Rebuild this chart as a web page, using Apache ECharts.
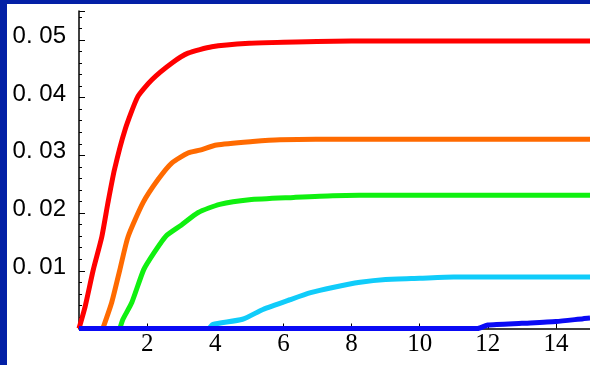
<!DOCTYPE html>
<html>
<head>
<meta charset="utf-8">
<script src="https://cdn.jsdelivr.net/npm/echarts@6/dist/echarts.min.js"></script>
<style>
html,body{margin:0;padding:0;background:#fff;}
#chart{width:590px;height:365px;}
</style>
</head>
<body>
<div id="chart"></div>
<script>
// ---- data ----
var xTickValues = [2, 4, 6, 8, 10, 12, 14];
var xTickLabels = ['2', '4', '6', '8', '10', '12', '14'];
var yTickValues = [0.01, 0.02, 0.03, 0.04, 0.05];
var yTickLabels = ['0. 01', '0. 02', '0. 03', '0. 04', '0. 05'];

var redX = [0, 0.18, 0.42, 0.67, 0.85, 1.04, 1.35, 1.73, 2.14, 2.73, 3.2, 3.9, 5.0, 6.0, 8.0, 15];
var redY = [0, 0.0038, 0.0102, 0.0159, 0.0218, 0.0275, 0.0344, 0.0402, 0.0431, 0.0460, 0.0477, 0.0488, 0.0494, 0.0496, 0.0498, 0.0498];

var orangeX = [0.7, 0.96, 1.2, 1.44, 1.88, 2.32, 2.73, 3.2, 3.55, 4.04, 5.1, 5.9, 8.0, 15];
var orangeY = [0, 0.0045, 0.0102, 0.0159, 0.0218, 0.0258, 0.0287, 0.0304, 0.0309, 0.0318, 0.0324, 0.0327, 0.0328, 0.0328];

var greenX = [1.2, 1.29, 1.55, 1.9, 2.2, 2.55, 3.0, 3.5, 4.13, 5.0, 6.3, 7.45, 9.0, 15];
var greenY = [0, 0.0016, 0.0045, 0.0102, 0.0131, 0.0160, 0.0179, 0.0201, 0.0215, 0.0223, 0.0227, 0.0230, 0.0231, 0.0231];

var cyanX = [0, 3.8, 3.93, 4.8, 5.4, 6.2, 6.8, 7.45, 8.25, 9.0, 10.0, 11.0, 15];
var cyanY = [0, 0, 0.0007, 0.0016, 0.0033, 0.0050, 0.0062, 0.0071, 0.0080, 0.0085, 0.0087, 0.0089, 0.0089];

var blueX = [0, 11.7, 12.0, 13.0, 14.0, 14.8, 15];
var blueY = [0, 0, 0.0006, 0.0009, 0.0012, 0.0017, 0.0018];

function pairs(xs, ys) { return xs.map(function (x, i) { return [x, ys[i]]; }); }

var chart = echarts.init(document.getElementById('chart'), null, {renderer: 'canvas'});

function lineSeries(name, xs, ys, color) {
  return {
    name: name, type: 'line', data: pairs(xs, ys),
    showSymbol: false, symbol: 'none',
    smooth: 0.2,
    lineStyle: {color: color, width: 5, join: 'round', cap: 'butt'},
    z: 3
  };
}

chart.setOption({
  animation: false,
  backgroundColor: '#ffffff',
  graphic: [
    {type: 'rect', left: 0, top: 0, shape: {width: 590, height: 4}, style: {fill: '#0320A6'}, z: 100},
    {type: 'rect', left: 0, top: 0, shape: {width: 7, height: 365}, style: {fill: '#0320A6'}, z: 100}
  ],
  grid: {left: 79, right: 0, top: 11, bottom: 36.5, containLabel: false},
  xAxis: {
    type: 'value', min: 0, max: 15, interval: 2,
    axisLine: {show: true, onZero: false, lineStyle: {color: '#000', width: 1.5}},
    axisTick: {show: true, inside: true, length: 5, lineStyle: {color: '#000'}},
    splitLine: {show: false},
    axisLabel: {
      show: true, margin: 3, showMinLabel: false, showMaxLabel: false,
      fontFamily: 'Liberation Serif', fontSize: 25, color: '#000',
      formatter: function (v) {
        var i = xTickValues.indexOf(Math.round(v));
        return (i >= 0 && Math.abs(v - Math.round(v)) < 1e-9) ? xTickLabels[i] : '';
      }
    }
  },
  yAxis: {
    type: 'value', min: 0, max: 0.055, interval: 0.01,
    axisLine: {show: true, onZero: false, lineStyle: {color: '#000', width: 1.5}},
    axisTick: {show: true, inside: true, length: 6, lineStyle: {color: '#000'}},
    minorTick: {show: true, splitNumber: 5, length: 3, lineStyle: {color: '#000'}},
    splitLine: {show: false},
    axisLabel: {
      show: true, margin: 13,
      fontFamily: 'Liberation Sans', fontSize: 24, color: '#000',
      formatter: function (v) {
        var k = Math.round(v * 100);
        if (Math.abs(v * 100 - k) > 1e-6) return '';
        var i = yTickValues.findIndex(function (t) { return Math.abs(t - v) < 1e-9; });
        return i >= 0 ? '{a|' + yTickLabels[i] + '}' : '';
      },
      rich: {
        a: {fontFamily: 'Liberation Sans', fontSize: 24, color: '#000', padding: [0, 0, 7, 0]}
      }
    }
  },
  series: [
    lineSeries('red', redX, redY, '#FF0000'),
    lineSeries('orange', orangeX, orangeY, '#FF6A00'),
    lineSeries('green', greenX, greenY, '#10F010'),
    lineSeries('cyan', cyanX, cyanY, '#10CCFA'),
    lineSeries('blue', blueX, blueY, '#0A0AF5')
  ]
});
</script>
</body>
</html>
